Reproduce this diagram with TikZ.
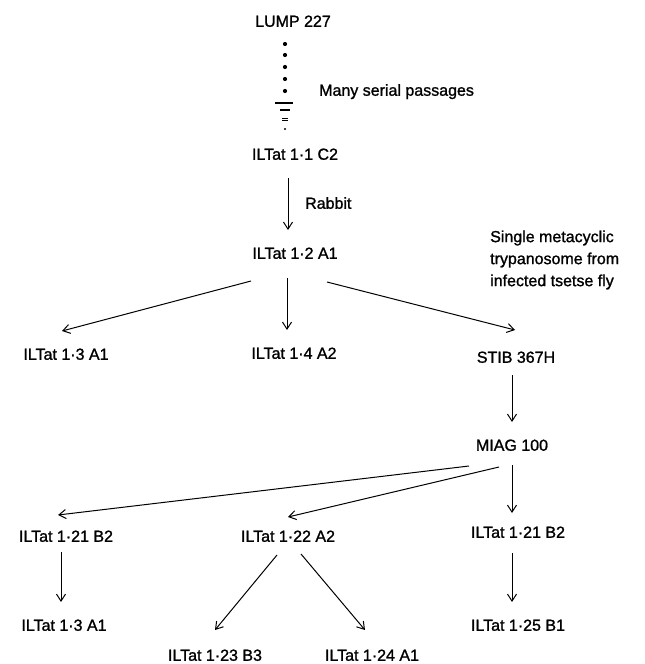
\documentclass[tikz,border=0pt]{standalone}
\usepackage{fontspec}
\setmainfont{Liberation Sans}[UprightFeatures={FakeBold=1.2}]
\usetikzlibrary{arrows.meta,calc}
\begin{document}
\begin{tikzpicture}[x=1pt,y=-1pt,
  font=\fontsize{16}{22}\selectfont,
  lbl/.style={inner sep=0pt,text height=11.5pt,text depth=0pt},
  arr/.style={line width=1pt,-{Straight Barb[length=7pt,width=9pt,line width=1pt]}},
  dotmark/.style={fill=black}]
\fill[white] (0,0) rectangle (645,664);
\useasboundingbox (0,0) rectangle (645,664);

% nodes
\node[lbl] (lump) at (293,21) {LUMP 227};
\node[lbl,anchor=west] (many) at (319,90) {Many serial passages};
\node[lbl] (c2) at (295,154) {ILTat 1·1 C2};
\node[lbl,anchor=west] (rabbit) at (305,203) {Rabbit};
\node[lbl] (a1) at (295,253) {ILTat 1·2 A1};
\node[inner sep=0pt,anchor=west,align=left] (single) at (490,260) {Single metacyclic\\trypanosome from\\infected tsetse fly};
\node[lbl] (a13) at (66,354) {ILTat 1·3 A1};
\node[lbl] (a14) at (294,353) {ILTat 1·4 A2};
\node[lbl] (stib) at (516,357) {STIB 367H};
\node[lbl] (miag) at (512,445) {MIAG 100};
\node[lbl] (b21l) at (66,536) {ILTat 1·21 B2};
\node[lbl] (a22) at (288,536) {ILTat 1·22 A2};
\node[lbl] (b21r) at (518,532) {ILTat 1·21 B2};
\node[lbl] (a13b) at (64,625) {ILTat 1·3 A1};
\node[lbl] (b25) at (518,625) {ILTat 1·25 B1};
\node[lbl] (b23) at (215,655) {ILTat 1·23 B3};
\node[lbl] (a24) at (372,655) {ILTat 1·24 A1};

% many serial passages: dotted column
\foreach \yy in {44,55,67,79,91} \fill[dotmark] ($(lump)+(-8,\yy-21)$) circle (2.1);
\draw[line width=1.5pt] ($(lump)+(-18,82)$) -- ($(lump)+(0,82)$);
\draw[line width=1.3pt] ($(lump)+(-13,89)$) -- ($(lump)+(-3,89)$);
\draw[line width=0.9pt] ($(lump)+(-11,97)$) -- ($(lump)+(-5,97)$);
\draw[line width=0.9pt] ($(lump)+(-11,99.5)$) -- ($(lump)+(-5,99.5)$);
\fill[dotmark] ($(c2)+(-10,-25)$) circle (1.1);

% connectors
\draw[arr] ($(c2)+(-7,24)$) -- ($(a1)+(-7,-23)$);
\draw[arr] ($(a1)+(-44,28)$) -- ($(a13)+(-4,-23)$);
\draw[arr] ($(a1)+(-8,25)$) -- ($(a14)+(-7,-23)$);
\draw[arr] ($(a1)+(32,29)$) -- ($(stib)+(-1,-27)$);
\draw[arr] ($(stib)+(-4,18)$) -- ($(miag)+(0,-23)$);
\draw[arr] ($(miag)+(-43,21)$) -- ($(b21l)+(-8,-21)$);
\draw[arr] ($(miag)+(-13,22)$) -- ($(a22)+(0,-19)$);
\draw[arr] ($(miag)+(0,20)$) -- ($(b21r)+(-6,-19)$);
\draw[arr] ($(b21l)+(-5,16)$) -- ($(a13b)+(-3,-23)$);
\draw[arr] ($(a22)+(-11,19)$) -- ($(b23)+(0,-25)$);
\draw[arr] ($(a22)+(13,18)$) -- ($(a24)+(-7,-25)$);
\draw[arr] ($(b21r)+(-6,21)$) -- ($(b25)+(-6,-23)$);
\end{tikzpicture}
\end{document}
